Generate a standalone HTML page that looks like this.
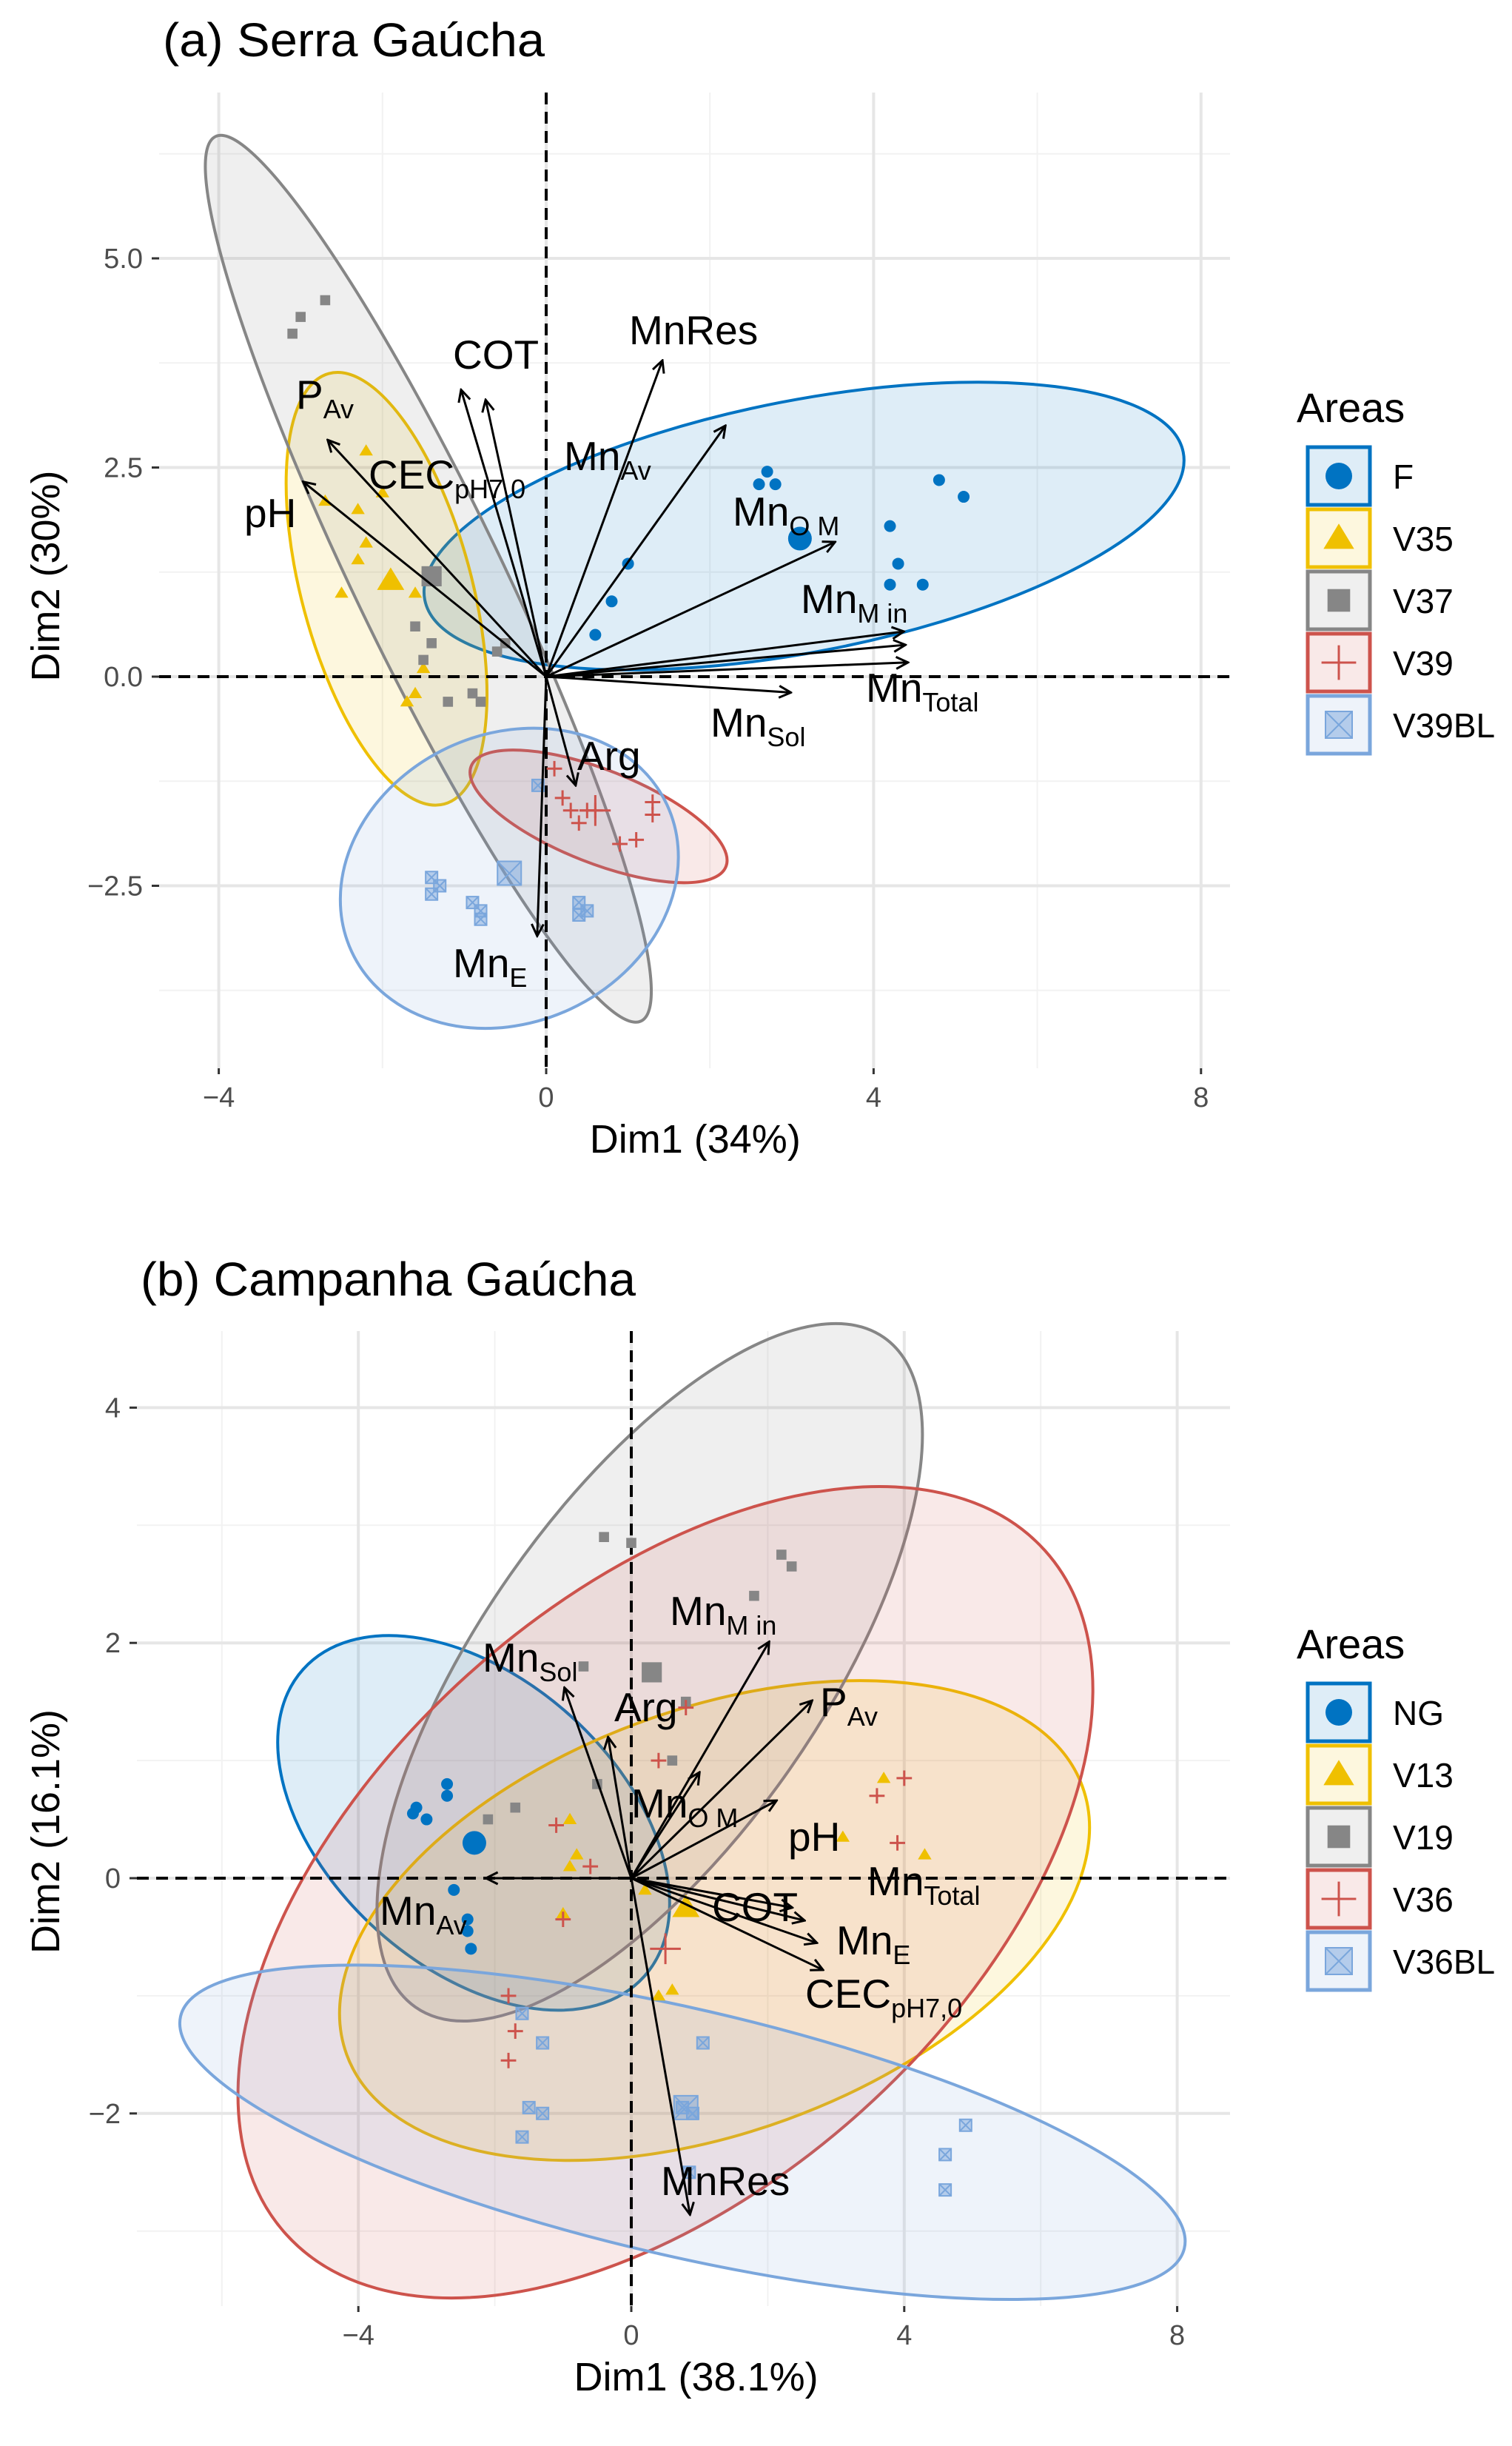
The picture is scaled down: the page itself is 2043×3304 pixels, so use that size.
<!DOCTYPE html>
<html><head><meta charset="utf-8"><style>
html,body{margin:0;padding:0;background:#fff;overflow:hidden}
svg{display:block;font-family:"Liberation Sans",sans-serif}
</style></head><body>
<svg id="fig" width="2043" height="3304" viewBox="0 0 2043 3304">
<defs>
<marker id="ah" viewBox="0 0 20 20" refX="18" refY="10" markerWidth="20" markerHeight="20" markerUnits="userSpaceOnUse" orient="auto">
<path d="M2,2 L18,10 L2,18" fill="none" stroke="#000" stroke-width="3"/></marker>
</defs>
</svg>
<script>
// ---------- Panel A data ----------
const aGroups = ["F","V35","V37","V39","V39BL"];
const aF_x = [2.7,2.6,2.8,4.2,4.3,4.2,4.6,4.8,5.1,1.0,0.8,0.6];
const aF_y = [2.45,2.3,2.3,1.8,1.35,1.1,1.1,2.35,2.15,1.35,0.9,0.5];
const aV35_x = [-2.2,-2.7,-2.3,-2.2,-2.3,-2.5,-1.6,-1.5,-1.6,-1.7,-2.0];
const aV35_y = [2.7,2.1,2.0,1.6,1.4,1.0,1.0,0.1,-0.2,-0.3,2.2];
const aV37_x = [-3.1,-3.0,-2.7,-1.6,-1.4,-1.5,-0.9,-0.8,-0.6,-0.5,-1.2];
const aV37_y = [4.1,4.3,4.5,0.6,0.4,0.2,-0.2,-0.3,0.3,0.4,-0.3];
const aV39_x = [0.1,0.3,0.4,0.6,1.3,1.3,0.9,1.1,0.2,0.5];
const aV39_y = [-1.1,-1.6,-1.75,-1.6,-1.5,-1.65,-2.0,-1.95,-1.45,-1.6];
const aV39BL_x = [-1.4,-1.3,-1.4,-0.9,-0.8,0.4,0.5,0.4,-0.8,-0.1];
const aV39BL_y = [-2.4,-2.5,-2.6,-2.7,-2.8,-2.7,-2.8,-2.85,-2.9,-1.3];
const aCent_x = [3.1,-1.9,-1.4,0.6,-0.45];
const aCent_y = [1.65,1.15,1.2,-1.6,-2.35];
const aArrowNames = ["pH","P|Av","COT","CEC|pH7,0","MnRes","Mn|Av","Mn|O M","Mn|M in","Mn|M in","Mn|Total","Mn|Sol","Arg","Mn|E"];
const aArrow_x = [-2.97,-2.67,-1.04,-0.74,1.42,2.19,3.53,4.37,4.39,4.42,2.99,0.36,-0.11];
const aArrow_y = [2.33,2.83,3.43,3.31,3.78,3.0,1.61,0.54,0.38,0.17,-0.19,-1.3,-3.1];
// ---------- Panel B data ----------
const bGroups = ["NG","V13","V19","V36","V36BL"];
const bNG_x = [-3.2,-3.15,-2.7,-2.7,-3.0,-2.6,-2.4,-2.4,-2.35];
const bNG_y = [0.55,0.6,0.7,0.8,0.5,-0.1,-0.35,-0.45,-0.6];
const bV13_x = [-0.9,-0.9,-1.0,0.2,0.4,0.6,3.1,3.7,4.3,-0.8];
const bV13_y = [0.5,0.1,-0.3,-0.1,-1.0,-0.95,0.35,0.85,0.2,0.2];
const bV19_x = [-0.4,0.0,2.2,2.35,1.8,-0.7,0.8,0.6,-1.7,-2.1,-0.5];
const bV19_y = [2.9,2.85,2.75,2.65,2.4,1.8,1.5,1.0,0.6,0.5,0.8];
const bV36_x = [0.4,0.8,-1.1,-0.6,-1.0,3.6,4.0,3.9,-1.8,-1.7,-1.8];
const bV36_y = [1.0,1.45,0.45,0.1,-0.35,0.7,0.85,0.3,-1.0,-1.3,-1.55];
const bV36BL_x = [-1.6,-1.3,1.05,-1.5,-1.3,-1.6,0.75,0.9,4.9,4.6,4.6,0.85];
const bV36BL_y = [-1.15,-1.4,-1.4,-1.95,-2.0,-2.2,-1.95,-2.0,-2.1,-2.35,-2.65,-2.5];
const bCent_x = [-2.3,0.8,0.3,0.5,0.8];
const bCent_y = [0.3,-0.25,1.75,-0.6,-1.95];
const bArrowNames = ["Mn|Av","Mn|Sol","Arg","Mn|M in","P|Av","Mn|O M","pH","COT","Mn|Total","Mn|E","CEC|pH7,0","MnRes"];
const bArrow_x = [-2.13,-0.98,-0.34,2.02,2.65,2.13,1.0,2.36,2.54,2.72,2.81,0.86];
const bArrow_y = [0,1.62,1.2,2.01,1.51,0.66,0.9,-0.25,-0.36,-0.55,-0.78,-2.86];
// ellipse stats: centre (data)
const aEll_cx=[3.15,-1.95,-1.44,0.64,-0.45], aEll_cy=[1.8,1.05,1.17,-1.67,-2.41];
const bEll_cx=[-2.31,1.22,0.27,0.5,0.75], bEll_cy=[0.47,-0.36,1.75,-0.12,-2.16];

const COL=["#0073C2","#EFC000","#868686","#CD534C","#7AA6DC"];
const FILL=COL;
const svg=document.getElementById('fig');
const NS="http://www.w3.org/2000/svg";
function mk(tag,attrs,parent){const e=document.createElementNS(NS,tag);for(const k in attrs)e.setAttribute(k,attrs[k]);(parent||svg).appendChild(e);return e;}

function panel(cfg){
  const g=mk('g',{});
  
  
  const X=v=>cfg.x0+v*cfg.ux, Y=v=>cfg.y0-v*cfg.uy;
  cfg.minorX.forEach(v=>{const l=mk('line',{x1:X(v),x2:X(v),y1:cfg.top,y2:cfg.bot,stroke:'#f2f2f2','stroke-width':2},g);});
  cfg.minorY.forEach(v=>{const l=mk('line',{x1:cfg.left,x2:cfg.right,y1:Y(v),y2:Y(v),stroke:'#f2f2f2','stroke-width':2},g);});
  cfg.ticksX.forEach(v=>{const l=mk('line',{x1:X(v),x2:X(v),y1:cfg.top,y2:cfg.bot,stroke:'#e6e6e6','stroke-width':4},g);
    const t=mk('text',{x:X(v),y:cfg.bot+52,'text-anchor':'middle','font-size':38,fill:'#4d4d4d'},g);t.textContent=v<0?'\u2212'+(-v):String(v);
    mk('line',{x1:X(v),x2:X(v),y1:cfg.bot,y2:cfg.bot+8,stroke:'#333','stroke-width':3},g);});
  cfg.ticksY.forEach((v,i)=>{const l=mk('line',{x1:cfg.left,x2:cfg.right,y1:Y(v),y2:Y(v),stroke:'#e6e6e6','stroke-width':4},g);
    const t=mk('text',{x:cfg.left-22,y:Y(v)+13,'text-anchor':'end','font-size':38,fill:'#4d4d4d'},g);t.textContent=cfg.ticksYLab[i];
    mk('line',{x1:cfg.left-10,x2:cfg.left,y1:Y(v),y2:Y(v),stroke:'#333','stroke-width':3},g);});
  cfg.ell.forEach((e,i)=>{const el=mk('ellipse',{cx:X(cfg.ecx[i]),cy:Y(cfg.ecy[i]),rx:e[0],ry:e[1],transform:`rotate(${e[2]} ${X(cfg.ecx[i])} ${Y(cfg.ecy[i])})`,fill:FILL[i],'fill-opacity':0.13,stroke:COL[i],'stroke-width':4},g);
    });
  const dx=mk('line',{x1:cfg.left,x2:cfg.right,y1:Y(0),y2:Y(0),stroke:'#000','stroke-width':4,'stroke-dasharray':'16,10'},g);
  const dy=mk('line',{x1:X(0),x2:X(0),y1:cfg.top,y2:cfg.bot,stroke:'#000','stroke-width':4,'stroke-dasharray':'16,10'},g);
  cfg.pts.forEach((p,i)=>{p[0].forEach((vx,j)=>{marker(g,i,X(vx),Y(p[1][j]),8,cfg.groups[i]);});
    marker(g,i,X(cfg.cx[i]),Y(cfg.cy[i]),16,cfg.groups[i]);});
  cfg.an.forEach((n,i)=>{const a=mk('line',{x1:X(0),y1:Y(0),x2:X(cfg.ax[i]),y2:Y(cfg.ay[i]),stroke:'#000','stroke-width':3,'marker-end':'url(#ah)'},g);
    });
  cfg.labs.forEach(L=>{const t=mk('text',{x:L[1],y:L[2],'font-size':55,fill:'#000'},g);
    const parts=L[0].split('|');const m=mk('tspan',{},t);m.textContent=parts[0];
    if(parts[1]){const s=mk('tspan',{dy:13,'font-size':36},t);s.textContent=parts[1];}});
  const tt=mk('text',{x:cfg.tx,y:cfg.ty,'font-size':64,fill:'#000',textLength:cfg.tw,lengthAdjust:'spacingAndGlyphs'},g);tt.textContent=cfg.title;
  const xt=mk('text',{x:X(cfg.xtc),y:cfg.bot+114,'text-anchor':'middle','font-size':54},g);xt.textContent=cfg.xlab;
  const ym=cfg.ymid;
  const yt=mk('text',{x:80,y:ym,'text-anchor':'middle','font-size':54,transform:`rotate(-90 80 ${ym})`},g);yt.textContent=cfg.ylab;
  const lg=mk('g',{},g);
  const at=mk('text',{x:1752,y:cfg.ly,'font-size':56},lg);at.textContent='Areas';
  cfg.groups.forEach((gname,i)=>{const y=cfg.ly+34+i*84;
    const r=mk('rect',{x:1767,y:y,width:84,height:78,fill:FILL[i],'fill-opacity':0.13,stroke:COL[i],'stroke-width':5},lg);
    marker(lg,i,1809,y+39,18,gname);
    const t=mk('text',{x:1882,y:y+56,'font-size':46},lg);t.textContent=gname;});
}
function marker(g,i,x,y,r,gname){let e;
  if(i===0){e=mk('circle',{cx:x,cy:y,r:r,fill:COL[0]},g);}
  else if(i===1){e=mk('polygon',{points:`${x},${y-r*1.1} ${x-r*1.15},${y+r*0.8} ${x+r*1.15},${y+r*0.8}`,fill:COL[1]},g);}
  else if(i===2){e=mk('rect',{x:x-r*0.85,y:y-r*0.85,width:r*1.7,height:r*1.7,fill:COL[2]},g);}
  else if(i===3){e=mk('path',{d:`M${x-r*1.3},${y}H${x+r*1.3}M${x},${y-r*1.3}V${y+r*1.3}`,stroke:COL[3],'stroke-width':3,fill:'none'},g);}
  else {e=mk('path',{d:`M${x-r},${y-r}h${2*r}v${2*r}h${-2*r}zM${x-r},${y-r}L${x+r},${y+r}M${x+r},${y-r}L${x-r},${y+r}`,stroke:COL[4],'stroke-width':2,fill:COL[4],'fill-opacity':0.5},g);}
  
  
}
panel({id:'serra-gaucha',x0:738,ux:110.6,y0:914,uy:113,left:215,right:1662,top:125,bot:1443,
  ticksX:[-4,0,4,8],minorX:[-2,2,6],ticksY:[-2.5,0,2.5,5],ticksYLab:['\u22122.5','0.0','2.5','5.0'],minorY:[-3.75,-1.25,1.25,3.75,6.25],
  groups:aGroups,pts:[[aF_x,aF_y],[aV35_x,aV35_y],[aV37_x,aV37_y],[aV39_x,aV39_y],[aV39BL_x,aV39BL_y]],cx:aCent_x,cy:aCent_y,
  ecx:aEll_cx,ecy:aEll_cy,ell:[[522,170,-11],[301,115,75],[663,100,64.3],[185,63,21.5],[235,195,-25]],
  an:aArrowNames,ax:aArrow_x,ay:aArrow_y,
  labs:[['pH',330,712],['P|Av',400,552],['COT',612,498],['CEC|pH7,0',498,660],['MnRes',850,465],['Mn|Av',762,635],['Mn|O M',990,710],['Mn|M in',1082,828],['Mn|Total',1170,948],['Mn|Sol',960,995],['Arg',780,1040],['Mn|E',612,1320]],
  title:'(a) Serra Ga\u00facha',tx:220,ty:76,tw:516,xlab:'Dim1 (34%)',xtc:1.82,ylab:'Dim2 (30%)',ymid:778,ly:570});
panel({id:'campanha-gaucha',x0:853,ux:92.2,y0:2537,uy:158.9,left:185,right:1662,top:1798,bot:3115,
  ticksX:[-4,0,4,8],minorX:[-6,-2,2,6],ticksY:[-2,0,2,4],ticksYLab:['\u22122','0','2','4'],minorY:[-3,-1,1,3],
  groups:bGroups,pts:[[bNG_x,bNG_y],[bV13_x,bV13_y],[bV19_x,bV19_y],[bV36_x,bV36_y],[bV36BL_x,bV36BL_y]],cx:bCent_x,cy:bCent_y,
  ecx:bEll_cx,ecy:bEll_cy,ell:[[310,195,42],[529,286,-20],[552,230,-55],[690,397,-42],[696,167,13]],
  an:bArrowNames,ax:bArrow_x,ay:bArrow_y,
  labs:[['Mn|Av',513,2600],['Mn|Sol',652,2258],['Arg',830,2325],['Mn|M in',905,2195],['P|Av',1108,2318],['Mn|O M',853,2455],['pH',1065,2500],['COT',962,2595],['Mn|Total',1172,2560],['Mn|E',1130,2640],['CEC|pH7,0',1088,2712],['MnRes',893,2965]],
  title:'(b) Campanha Ga\u00facha',tx:190,ty:1750,tw:669,xlab:'Dim1 (38.1%)',xtc:0.95,ylab:'Dim2 (16.1%)',ymid:2474,ly:2240});
</script>
</body></html>
